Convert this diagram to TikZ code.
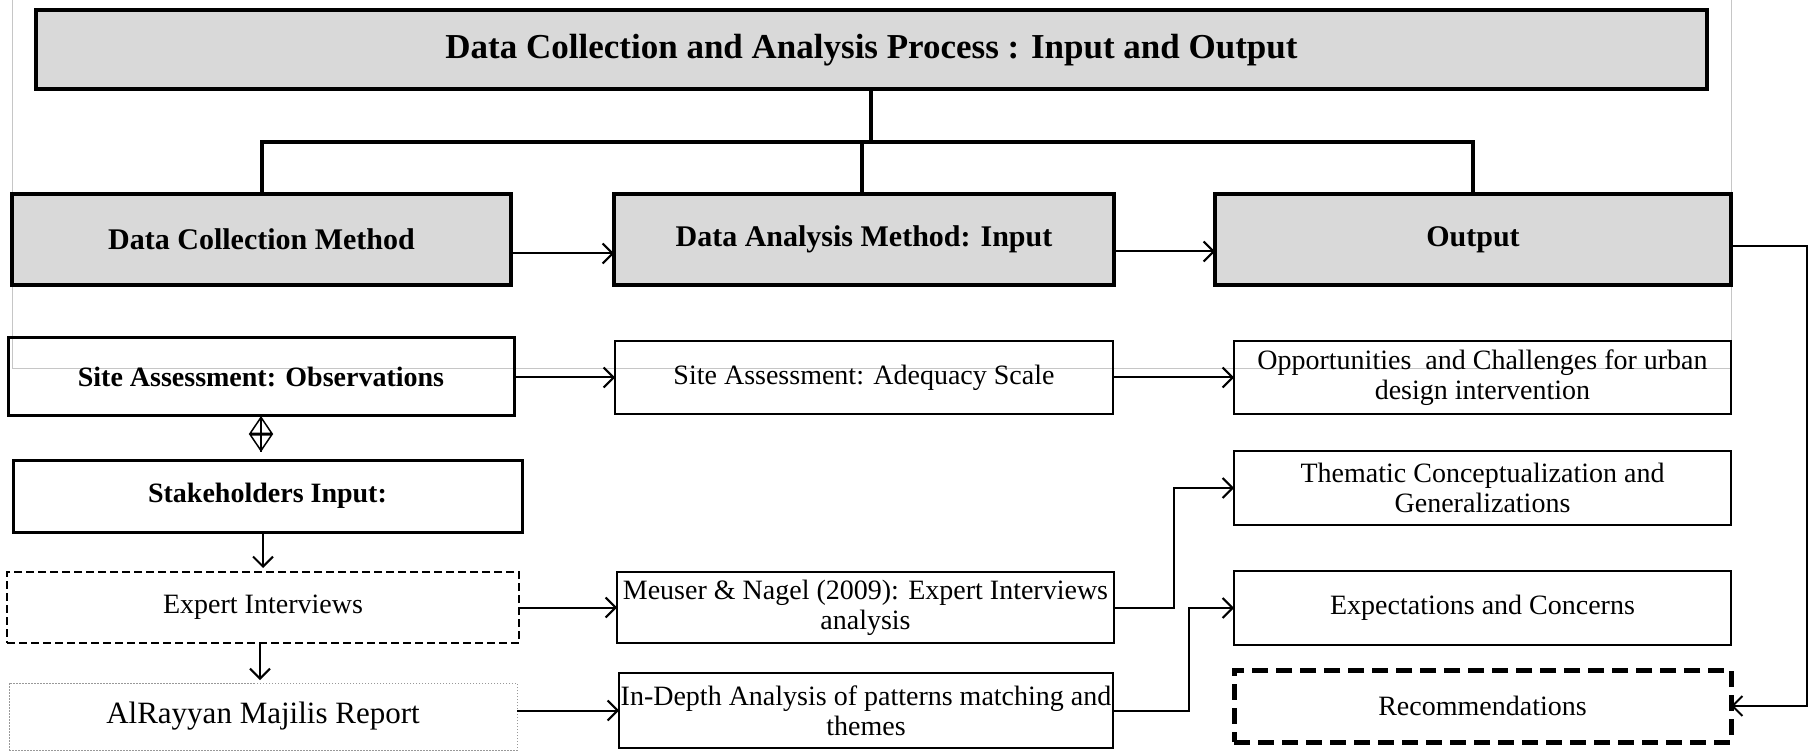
\documentclass[tikz,border=0pt]{standalone}
\usepackage{fontspec}
\setmainfont{Liberation Serif}
\usetikzlibrary{arrows.meta,calc}
\definecolor{boxgray}{HTML}{D9D9D9}
\begin{document}
\begin{tikzpicture}[x=1pt,y=-1pt,
  every node/.style={inner sep=0pt, outer sep=0pt, align=center},
  titlebox/.style={draw, fill=boxgray, line width=4pt, font=\fontsize{35}{40}\selectfont\bfseries},
  headbox/.style={draw, fill=boxgray, line width=4pt, font=\fontsize{30}{34}\selectfont\bfseries},
  boldbox/.style={draw, line width=3pt, font=\fontsize{28}{30}\selectfont\bfseries},
  plainbox/.style={draw, line width=2pt, font=\fontsize{28}{30}\selectfont},
  dashbox/.style={draw, line width=2pt, dash pattern=on 8pt off 4pt, font=\fontsize{28}{30}\selectfont},
  dotbox/.style={draw=gray!80, line width=1pt, dash pattern=on 1.5pt off 1.5pt, font=\fontsize{31}{34}\selectfont},
  recbox/.style={draw, line width=5pt, dash pattern=on 16pt off 8pt, font=\fontsize{28}{30}\selectfont},
  tree/.style={line width=4pt},
  arr/.style={line width=2pt, -{Straight Barb[length=10pt,width=20pt,line width=2pt]}},
  frame/.style={draw=gray!45, line width=0.8pt}
]
\useasboundingbox (0,0) rectangle (1816,751);
% faint frame
\draw[frame] (12,0) -- (12,368) -- (1731,368) -- (1731,0);

% title and heads
\node[titlebox, minimum width=1671, minimum height=79] (title) at (871.5,50) {Data Collection and Analysis Process : Input and Output};
\node[headbox, minimum width=499, minimum height=91] (dcm) at (261.5,239.5) {Data Collection Method};
\node[headbox, minimum width=500, minimum height=91] (dam) at (864,239.5) {Data Analysis Method: Input};
\node[headbox, minimum width=516, minimum height=91] (out) at (1473,239.5) {Output};

% tree
\coordinate (hub) at (871,142);
\draw[tree] (title.south -| hub) -- (hub);
\draw[tree] (dcm.north) |- (hub) -| (out.north);
\draw[tree] (dam.north -| 862,0) -- (862,142);

% row 2 left
\node[boldbox, minimum width=506, minimum height=77] (sao) at (261,376.5) {Site Assessment: Observations};
\node[boldbox, minimum width=509, minimum height=72] (stk) at (267.5,496) {Stakeholders Input:};
\node[dashbox, minimum width=512, minimum height=71] (ei) at (263,607.5) {Expert Interviews};
\node[dotbox, minimum width=508, minimum height=67] (alr) at (263,716.5) {AlRayyan Majilis Report};

% middle
\node[plainbox, minimum width=498, minimum height=73] (saa) at (864,377.5) {Site Assessment: Adequacy Scale};
\node[plainbox, minimum width=497, minimum height=71] (mn) at (865.5,607.5) {Meuser \& Nagel (2009): Expert Interviews\\analysis};
\node[plainbox, minimum width=494, minimum height=75] (ind) at (866,710.5) {In-Depth Analysis of patterns matching and\\themes};

% right
\node[plainbox, minimum width=497, minimum height=73] (opp) at (1482.5,377.5) {Opportunities~ and Challenges for urban\\design intervention};
\node[plainbox, minimum width=497, minimum height=74] (them) at (1482.5,488) {Thematic Conceptualization and\\Generalizations};
\node[plainbox, minimum width=497, minimum height=74] (exp) at (1482.5,608) {Expectations and Concerns};
\node[recbox, minimum width=497, minimum height=72] (rec) at (1482.5,706) {Recommendations};

% arrows row 1
\coordinate (rx) at (1807,0);
\draw[arr] ([yshift=-14pt]dcm.east) -- ([yshift=-14pt]dam.west);
\draw[arr] ([yshift=-12pt]dam.east) -- ([yshift=-12pt]out.west);
\draw[arr] ([yshift=-6.5pt]out.east) -- ([yshift=-6.5pt]out.east -| rx) |- (rec.east);

% row 2 arrows
\draw[arr] (sao.east |- saa.west) -- (saa.west);
\draw[arr] (saa.east) -- (opp.west);
\draw[line width=1.5pt] (sao.south) -- ([yshift=-37pt]sao.south);
\draw[line width=1.5pt, {Triangle[open,length=18pt,width=24pt,line width=1.5pt]}-{Triangle[open,length=18pt,width=24pt,line width=1.5pt]}] ([yshift=-1pt]sao.south) -- ([yshift=-37pt]sao.south);
\draw[arr] (ei.north |- stk.south) -- ([yshift=4pt]ei.north);
\draw[arr] ([xshift=-3pt]ei.south) -- ([xshift=-3pt,yshift=3pt]alr.north);
\draw[arr] (ei.east) -- (mn.west);
\draw[arr] (alr.east |- ind.west) -- (ind.west);
\draw[arr] (mn.east) -- ++(60,0) |- (them.west);
\draw[arr] (ind.east) -- ++(76,0) |- (exp.west);
\end{tikzpicture}
\end{document}
